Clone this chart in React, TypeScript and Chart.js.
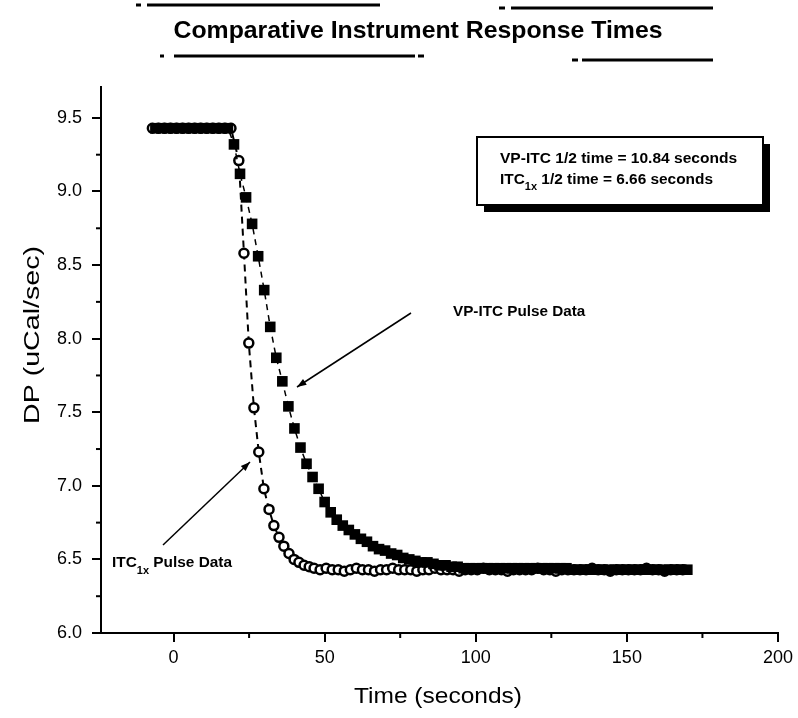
import React, { useEffect, useRef } from "react";
import { Chart, registerables } from "chart.js";

Chart.register(...registerables);

// ---------- data ----------
const vpTime = [
  -6, -4, -2, 0, 2, 4, 6, 8, 10, 12, 14, 16, 18,
  20, 22, 24, 26, 28, 30, 32, 34, 36, 38, 40, 42, 44, 46, 48, 50,
  52, 54, 56, 58, 60, 62, 64, 66, 68, 70, 72, 74, 76, 78, 80,
  82, 84, 86, 88, 90, 92, 94, 96, 98, 100,
  102, 104, 106, 108, 110, 112, 114, 116, 118, 120, 122, 124, 126, 128, 130,
  132, 134, 136, 138, 140, 142, 144, 146, 148, 150, 152, 154, 156, 158, 160,
  162, 164, 166, 168, 170,
];
const vpDP = [
  9.43, 9.43, 9.43, 9.43, 9.43, 9.43, 9.43, 9.43, 9.43, 9.43, 9.43, 9.43, 9.43,
  9.32, 9.12, 8.96, 8.78, 8.56, 8.33, 8.08, 7.87, 7.71, 7.54, 7.39, 7.26, 7.15, 7.06, 6.98, 6.89,
  6.82, 6.77, 6.73, 6.70, 6.67, 6.64, 6.62, 6.59, 6.57, 6.56, 6.54, 6.53, 6.51, 6.50, 6.49,
  6.48, 6.48, 6.47, 6.46, 6.46, 6.45, 6.45, 6.44, 6.44, 6.44,
  6.44, 6.44, 6.44, 6.44, 6.44, 6.44, 6.44, 6.44, 6.44, 6.44, 6.44, 6.44, 6.44, 6.44, 6.44,
  6.43, 6.43, 6.43, 6.43, 6.43, 6.43, 6.43, 6.43, 6.43, 6.43, 6.43, 6.43, 6.43, 6.43, 6.43,
  6.43, 6.43, 6.43, 6.43, 6.43,
];

const itcTime = [
  -7, -5, -3, -1, 1, 3, 5, 7, 9, 11, 13, 15, 17, 19,
  21.6, 23.3, 24.9, 26.6, 28.2, 29.9, 31.6, 33.2, 34.9, 36.5, 38.2, 39.9, 41.5, 43.2, 44.9, 46.5,
  48.5, 50.5, 52.5, 54.5, 56.5, 58.5, 60.5, 62.5, 64.5, 66.5, 68.5, 70.5, 72.5, 74.5, 76.5, 78.5,
  80.5, 82.5, 84.5, 86.5, 88.5, 90.5, 92.5, 94.5, 96.5, 98.5, 100.5, 102.5, 104.5, 106.5, 108.5,
  110.5, 112.5, 114.5, 116.5, 118.5, 120.5, 122.5, 124.5, 126.5, 128.5, 130.5, 132.5, 134.5,
  136.5, 138.5, 140.5, 142.5, 144.5, 146.5, 148.5, 150.5, 152.5, 154.5, 156.5, 158.5, 160.5,
  162.5, 164.5, 166.5, 168.5,
];
const itcDP = [
  9.43, 9.43, 9.43, 9.43, 9.43, 9.43, 9.43, 9.43, 9.43, 9.43, 9.43, 9.43, 9.43, 9.43,
  9.21, 8.58, 7.97, 7.53, 7.23, 6.98, 6.84, 6.73, 6.65, 6.59, 6.54, 6.50, 6.48, 6.46, 6.45, 6.44,
  6.43, 6.44, 6.43, 6.43, 6.42, 6.43, 6.44, 6.43, 6.43, 6.42, 6.43, 6.43, 6.44, 6.43, 6.43, 6.43,
  6.42, 6.43, 6.43, 6.44, 6.43, 6.43, 6.43, 6.42, 6.43, 6.43, 6.43, 6.44, 6.43, 6.43, 6.43,
  6.42, 6.43, 6.43, 6.43, 6.43, 6.44, 6.43, 6.43, 6.42, 6.43, 6.43, 6.43, 6.43,
  6.43, 6.44, 6.43, 6.43, 6.42, 6.43, 6.43, 6.43, 6.43, 6.43, 6.44, 6.43, 6.43,
  6.42, 6.43, 6.43, 6.43,
];

const yMinorTicks = [6.25, 6.75, 7.25, 7.75, 8.25, 8.75, 9.25];
const xMinorTicks = [25, 75, 125, 175];

const titleText = "Comparative Instrument Response Times";
const xTitle = "Time (seconds)";
const yTitle = "DP (uCal/sec)";
const noteLine1 = "VP-ITC 1/2 time = 10.84 seconds";
const noteLine2Main = "ITC";
const noteLine2Sub = "1x";
const noteLine2Rest = " 1/2 time = 6.66 seconds";
const vpLabel = "VP-ITC Pulse Data";
const itcLabelMain = "ITC";
const itcLabelSub = "1x";
const itcLabelRest = " Pulse Data";

const FONT = '"Liberation Sans", Arial, Helvetica, sans-serif';

function arrow(ctx: CanvasRenderingContext2D, x1: number, y1: number, x2: number, y2: number) {
  ctx.beginPath();
  ctx.moveTo(x1, y1);
  ctx.lineTo(x2, y2);
  ctx.stroke();
  const a = Math.atan2(y2 - y1, x2 - x1);
  const L = 10;
  ctx.beginPath();
  ctx.moveTo(x2, y2);
  ctx.lineTo(x2 - L * Math.cos(a - 0.35), y2 - L * Math.sin(a - 0.35));
  ctx.lineTo(x2 - L * Math.cos(a + 0.35), y2 - L * Math.sin(a + 0.35));
  ctx.closePath();
  ctx.fill();
}

// draws text centred at (cx, cy), stretched horizontally to the given width
function fitText(ctx: CanvasRenderingContext2D, text: string, cx: number, cy: number, width: number) {
  const w = ctx.measureText(text).width;
  ctx.save();
  ctx.translate(cx, cy);
  ctx.scale(width / w, 1);
  ctx.textAlign = "center";
  ctx.textBaseline = "middle";
  ctx.fillText(text, 0, 0);
  ctx.restore();
}

// draws a sequence of [text, font, dy] pieces starting at x, stretched by sx
function richText(ctx: CanvasRenderingContext2D, parts: [string, string, number][], x: number, y: number, sx: number) {
  ctx.save();
  ctx.translate(x, y);
  ctx.scale(sx, 1);
  ctx.textAlign = "left";
  ctx.textBaseline = "alphabetic";
  let cx = 0;
  parts.forEach(([t, f, dy]) => {
    ctx.font = f;
    ctx.fillText(t, cx, dy);
    cx += ctx.measureText(t).width;
  });
  ctx.restore();
}

const decorPlugin = {
  id: "decor",
  afterDraw(chart: any) {
    const ctx: CanvasRenderingContext2D = chart.ctx;
    const xs = chart.scales.x;
    const ys = chart.scales.y;
    const area = chart.chartArea;
    ctx.save();
    ctx.fillStyle = "#000";
    ctx.strokeStyle = "#000";

    // minor ticks
    ctx.lineWidth = 2;
    yMinorTicks.forEach((v) => {
      const py = ys.getPixelForValue(v);
      ctx.beginPath();
      ctx.moveTo(area.left - 5, py);
      ctx.lineTo(area.left, py);
      ctx.stroke();
    });
    xMinorTicks.forEach((v) => {
      const px = xs.getPixelForValue(v);
      ctx.beginPath();
      ctx.moveTo(px, area.bottom);
      ctx.lineTo(px, area.bottom + 5);
      ctx.stroke();
    });

    // title
    ctx.font = `bold 24px ${FONT}`;
    fitText(ctx, titleText, 418, 31, 489);

    // broken frame lines around title
    ctx.lineWidth = 3;
    const seg = (x1: number, x2: number, y: number) => {
      ctx.beginPath();
      ctx.moveTo(x1, y);
      ctx.lineTo(x2, y);
      ctx.stroke();
    };
    seg(136, 141, 5);
    seg(147, 380, 5);
    seg(499, 505, 8);
    seg(511, 713, 8);
    seg(160, 164, 56);
    seg(174, 415, 56);
    seg(418, 424, 56);
    seg(572, 578, 60);
    seg(582, 713, 60);

    // axis titles
    ctx.font = `22px ${FONT}`;
    fitText(ctx, xTitle, 438, 697, 168);
    ctx.save();
    ctx.translate(33, 335);
    ctx.rotate(-Math.PI / 2);
    fitText(ctx, yTitle, 0, 0, 178);
    ctx.restore();

    // annotation box with shadow
    const bx = 477, by = 137, bw = 286, bh = 68;
    ctx.fillRect(bx + 7, by + 7, bw, bh);
    ctx.fillStyle = "#fff";
    ctx.fillRect(bx, by, bw, bh);
    ctx.fillStyle = "#000";
    ctx.lineWidth = 2;
    ctx.strokeRect(bx, by, bw, bh);

    const f14 = `bold 14px ${FONT}`;
    const f10 = `bold 10px ${FONT}`;
    richText(ctx, [[noteLine1, f14, 0]], 500, 163, 1.11);
    richText(ctx, [[noteLine2Main, f14, 0], [noteLine2Sub, f10, 6], [noteLine2Rest, f14, 0]], 500, 184, 1.1);

    // series labels
    richText(ctx, [[vpLabel, f14, 0]], 453, 316, 1.09);
    richText(ctx, [[itcLabelMain, f14, 0], [itcLabelSub, f10, 7], [itcLabelRest, f14, 0]], 112, 567, 1.1);

    // arrows
    ctx.lineWidth = 1.5;
    arrow(ctx, 411, 313, 297, 387);
    arrow(ctx, 163, 545, 250, 462);

    ctx.restore();
  },
};

export default function App() {
  const ref = useRef<HTMLCanvasElement>(null);
  useEffect(() => {
    const canvas = ref.current!;
    const chart = new Chart(canvas, {
      type: "scatter",
      data: {
        datasets: [
          {
            label: "ITC1x Pulse Data",
            data: itcTime.map((t, i) => ({ x: t, y: itcDP[i] })),
            showLine: true,
            borderColor: "#000",
            borderWidth: 2,
            borderDash: [7, 5],
            pointStyle: "circle",
            pointRadius: 4.5,
            pointBorderWidth: 2.5,
            pointBackgroundColor: "#fff",
            pointBorderColor: "#000",
            order: 2,
          },
          {
            label: "VP-ITC Pulse Data",
            data: vpTime.map((t, i) => ({ x: t, y: vpDP[i] })),
            showLine: true,
            borderColor: "#000",
            borderWidth: 1.5,
            borderDash: [6, 5],
            pointStyle: "rect",
            pointRadius: 7.5,
            pointBorderWidth: 0,
            pointBackgroundColor: "#000",
            pointBorderColor: "#000",
            order: 1,
          },
        ],
      },
      options: {
        responsive: false,
        animation: false,
        devicePixelRatio: 1,
        layout: { padding: { top: 87, right: 19, left: 0, bottom: 0 } },
        plugins: {
          legend: { display: false },
          tooltip: { enabled: false },
          title: { display: false },
        },
        scales: {
          x: {
            type: "linear",
            min: -24,
            max: 200,
            afterFit: (s: any) => {
              s.height = 85;
            },
            ticks: {
              stepSize: 50,
              includeBounds: false,
              maxRotation: 0,
              color: "#000",
              padding: 5,
              font: { family: FONT, size: 18 },
            },
            grid: {
              display: true,
              drawOnChartArea: false,
              drawTicks: true,
              tickLength: 9,
              color: "#000",
              lineWidth: 2,
            },
            border: { display: true, color: "#000", width: 2 },
          },
          y: {
            type: "linear",
            min: 6,
            max: 9.71,
            afterFit: (s: any) => {
              s.width = 101;
            },
            ticks: {
              stepSize: 0.5,
              includeBounds: false,
              color: "#000",
              padding: 10,
              font: { family: FONT, size: 18 },
              callback: (v: any) => Number(v).toFixed(1),
            },
            grid: {
              display: true,
              drawOnChartArea: false,
              drawTicks: true,
              tickLength: 9,
              color: "#000",
              lineWidth: 2,
            },
            border: { display: true, color: "#000", width: 2 },
          },
        },
      },
      plugins: [decorPlugin],
    } as any);
    return () => chart.destroy();
  }, []);
  return (
    <div style={{ position: "fixed", left: 0, top: 0, width: 798, height: 718, background: "#fff" }}>
      <canvas ref={ref} width={798} height={718} style={{ display: "block" }} />
    </div>
  );
}
